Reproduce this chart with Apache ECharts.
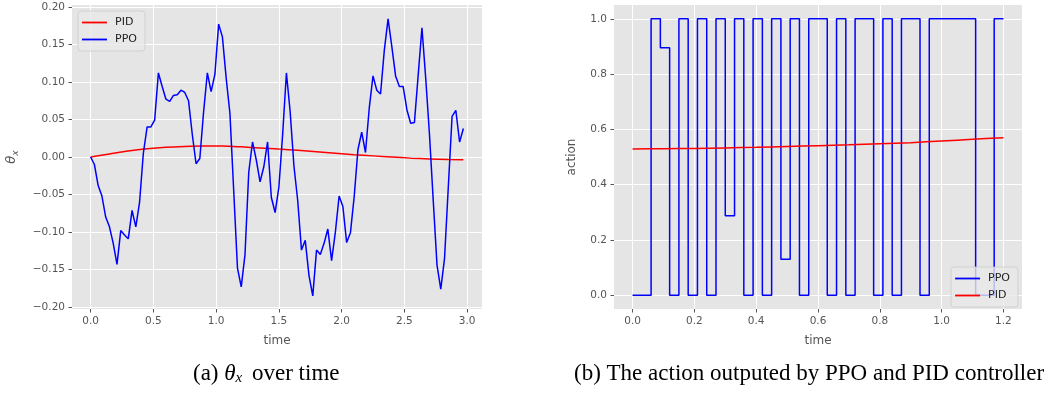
<!DOCTYPE html>
<html>
<head>
<meta charset="utf-8">
<script src="https://cdn.jsdelivr.net/npm/echarts@6/dist/echarts.min.js"></script>
<style>
  html, body { margin: 0; padding: 0; background: #fff; }
  #chart { width: 1062px; height: 394px; }
</style>
</head>
<body>
<div id="chart"></div>
<script>
// (a) theta_x over time
const thetaTime = [
  0.00, 0.03, 0.06, 0.09, 0.12, 0.15, 0.18, 0.21, 0.24, 0.27,
  0.30, 0.33, 0.36, 0.39, 0.42, 0.45, 0.48, 0.51, 0.54, 0.57,
  0.60, 0.63, 0.66, 0.69, 0.72, 0.75, 0.78, 0.81, 0.84, 0.87,
  0.90, 0.93, 0.96, 0.99, 1.02, 1.05, 1.08, 1.11, 1.14, 1.17,
  1.20, 1.23, 1.26, 1.29, 1.32, 1.35, 1.38, 1.41, 1.44, 1.47,
  1.50, 1.53, 1.56, 1.59, 1.62, 1.65, 1.68, 1.71, 1.74, 1.77,
  1.80, 1.83, 1.86, 1.89, 1.92, 1.95, 1.98, 2.01, 2.04, 2.07,
  2.10, 2.13, 2.16, 2.19, 2.22, 2.25, 2.28, 2.31, 2.34, 2.37,
  2.40, 2.43, 2.46, 2.49, 2.52, 2.55, 2.58, 2.61, 2.64, 2.67,
  2.70, 2.73, 2.76, 2.79, 2.82, 2.85, 2.88, 2.91, 2.94, 2.97
];
const thetaPPO = [
  0.000, -0.010, -0.038, -0.052, -0.080, -0.093, -0.115, -0.143, -0.098, -0.104,
  -0.109, -0.071, -0.093, -0.060, 0.005, 0.040, 0.040, 0.049, 0.112, 0.094,
  0.077, 0.074, 0.082, 0.083, 0.089, 0.086, 0.075, 0.030, -0.009, -0.002,
  0.060, 0.112, 0.087, 0.110, 0.177, 0.160, 0.105, 0.058, -0.045, -0.148,
  -0.173, -0.130, -0.020, 0.020, -0.004, -0.033, -0.013, 0.020, -0.054, -0.074,
  -0.040, 0.030, 0.112, 0.060, -0.012, -0.058, -0.124, -0.111, -0.158, -0.185,
  -0.124, -0.130, -0.115, -0.096, -0.138, -0.100, -0.052, -0.066, -0.114, -0.101,
  -0.053, 0.010, 0.033, 0.006, 0.065, 0.108, 0.089, 0.084, 0.142, 0.184,
  0.147, 0.108, 0.094, 0.094, 0.063, 0.045, 0.046, 0.109, 0.172, 0.105,
  0.030, -0.058, -0.144, -0.176, -0.135, -0.040, 0.054, 0.062, 0.020, 0.038
];
const thetaPIDTime = [0, 0.15, 0.3, 0.45, 0.6, 0.75, 0.9, 1.05, 1.2, 1.35, 1.5,
  1.65, 1.8, 1.95, 2.1, 2.25, 2.4, 2.55, 2.7, 2.85, 2.97];
const thetaPID = [0.000, 0.004, 0.008, 0.011, 0.013, 0.014, 0.0145, 0.0145, 0.0135, 0.012, 0.0105,
  0.009, 0.007, 0.005, 0.003, 0.0015, 0.000, -0.0015, -0.0025, -0.0033, -0.0035];

// (b) action output
const actionTime = [
  0.00, 0.03, 0.06, 0.09, 0.12, 0.15, 0.18, 0.21, 0.24, 0.27,
  0.30, 0.33, 0.36, 0.39, 0.42, 0.45, 0.48, 0.51, 0.54, 0.57,
  0.60, 0.63, 0.66, 0.69, 0.72, 0.75, 0.78, 0.81, 0.84, 0.87,
  0.90, 0.93, 0.96, 0.99, 1.02, 1.05, 1.08, 1.11, 1.14, 1.17, 1.20
];
const actionPPO = [
  0, 0, 1, 0.895, 0, 1, 0, 1, 0, 1,
  0.287, 1, 0, 1, 0, 1, 0.13, 1, 0, 1,
  1, 0, 1, 0, 1, 1, 0, 1, 0, 1,
  1, 0, 1, 1, 1, 1, 1, 0, 0, 1, 1
];
const actionPIDTime = [0, 0.1, 0.2, 0.3, 0.4, 0.5, 0.6, 0.7, 0.8, 0.9, 1.0, 1.1, 1.2];
const actionPID = [0.529, 0.530, 0.531, 0.533, 0.535, 0.538, 0.541, 0.544, 0.548, 0.552, 0.558, 0.564, 0.570];

const thetaXTicks = [0, 0.5, 1, 1.5, 2, 2.5, 3];
const thetaYTicks = [-0.2, -0.15, -0.1, -0.05, 0, 0.05, 0.1, 0.15, 0.2];
const actionXTicks = [0, 0.2, 0.4, 0.6, 0.8, 1.0, 1.2];
const actionYTicks = [0, 0.2, 0.4, 0.6, 0.8, 1.0];

const tickColor = '#555555';
const plotBg = '#e5e5e5';

const pairs = (xs, ys) => xs.map((x, i) => [x, ys[i]]);
const fmt = digits => v => (v < -1e-9 ? '\u2212' : '') + Math.abs(v).toFixed(digits);

function axis(gridIndex, min, max, ticks, digits, extra) {
  return Object.assign({
    type: 'value',
    gridIndex,
    min,
    max,
    axisLine: { show: false, onZero: false },
    axisTick: { show: true, length: 3.5, customValues: ticks, lineStyle: { color: tickColor, width: 1 } },
    axisLabel: {
      customValues: ticks,
      formatter: fmt(digits),
      color: tickColor,
      fontSize: 10.5,
      fontFamily: 'DejaVu Sans',
      margin: 7
    },
    splitLine: { show: true, lineStyle: { color: '#ffffff', width: 1 } },
    nameLocation: 'middle',
    nameTextStyle: { color: tickColor, fontSize: 12, fontFamily: 'DejaVu Sans' }
  }, extra);
}

// vertical white grid lines at the x ticks, kept under the data lines
function xGridLines(index, ticks) {
  return {
    type: 'line', xAxisIndex: index, yAxisIndex: index, data: [], z: 1, silent: true,
    markLine: {
      z: 1, silent: true, symbol: 'none', animation: false,
      label: { show: false },
      lineStyle: { color: '#ffffff', width: 1, type: 'solid' },
      emphasis: { disabled: true },
      data: ticks.map(v => ({ xAxis: v }))
    }
  };
}

const legendBase = {
  orient: 'vertical',
  icon: 'rect',
  itemWidth: 25,
  itemHeight: 1.8,
  itemGap: 4,
  padding: [5, 8, 5, 4],
  backgroundColor: 'rgba(232,232,232,0.8)',
  borderColor: 'rgba(204,204,204,0.8)',
  borderWidth: 1,
  borderRadius: 3,
  textStyle: { color: '#222', fontSize: 11, fontFamily: 'DejaVu Sans', padding: [0, 0, 0, 3], lineHeight: 13 }
};

const chart = echarts.init(document.getElementById('chart'));
chart.setOption({
  animation: false,
  backgroundColor: '#ffffff',
  grid: [
    { left: 72, top: 5, width: 410, height: 304, show: true, backgroundColor: plotBg, borderWidth: 0 },
    { left: 614, top: 5, width: 408, height: 304, show: true, backgroundColor: plotBg, borderWidth: 0 }
  ],
  xAxis: [
    axis(0, -0.1485, 3.1185, thetaXTicks, 1, { name: 'time', nameGap: 26 }),
    axis(1, -0.06, 1.26, actionXTicks, 1, { name: 'time', nameGap: 26 })
  ],
  yAxis: [
    axis(0, -0.2025, 0.2025, thetaYTicks, 2, {
      name: '{t|θ}{s|x}',
      nameGap: 52,
      nameRotate: 90,
      nameTextStyle: {
        color: tickColor,
        rich: {
          t: { fontSize: 13, fontStyle: 'italic', fontFamily: 'DejaVu Sans', color: tickColor, lineHeight: 16 },
          s: { fontSize: 9, fontStyle: 'italic', fontFamily: 'DejaVu Sans', color: tickColor, lineHeight: 16, padding: [7, 0, 0, 0] }
        }
      }
    }),
    axis(1, -0.05, 1.05, actionYTicks, 1, { name: 'action', nameGap: 36 })
  ],
  legend: [
    Object.assign({}, legendBase, { left: 78, top: 11, data: ['PID', 'PPO'] }),
    Object.assign({}, legendBase, { right: 44, top: 267, data: ['PPO', 'PID'] })
  ],
  graphic: [
    {
      type: 'text',
      left: 193,
      top: 362,
      style: {
        text: '(a) {i|θ}{s|x} over time',
        font: '23px "Liberation Serif"',
        fill: '#000',
        rich: {
          i: { fontSize: 23, fontStyle: 'italic', fontFamily: 'Liberation Serif', fill: '#000' },
          s: { fontSize: 15, fontStyle: 'italic', fontFamily: 'Liberation Serif', fill: '#000', padding: [10, 4, 0, 0] }
        }
      }
    },
    {
      type: 'text',
      left: 574,
      top: 362,
      style: {
        text: '(b) The action outputed by PPO and PID controller',
        font: '23px "Liberation Serif"',
        fill: '#000'
      }
    }
  ],
  series: [
    xGridLines(0, thetaXTicks),
    xGridLines(1, actionXTicks),
    {
      name: 'PID', type: 'line', xAxisIndex: 0, yAxisIndex: 0,
      data: pairs(thetaPIDTime, thetaPID), symbol: 'none', smooth: 0.3,
      lineStyle: { color: 'red', width: 1.5 }, itemStyle: { color: 'red' }
    },
    {
      name: 'PPO', type: 'line', xAxisIndex: 0, yAxisIndex: 0,
      data: pairs(thetaTime, thetaPPO), symbol: 'none',
      lineStyle: { color: 'blue', width: 1.5 }, itemStyle: { color: 'blue' }
    },
    {
      name: 'PPO', type: 'line', xAxisIndex: 1, yAxisIndex: 1,
      data: pairs(actionTime, actionPPO), symbol: 'none', step: 'end',
      lineStyle: { color: 'blue', width: 1.5 }, itemStyle: { color: 'blue' }
    },
    {
      name: 'PID', type: 'line', xAxisIndex: 1, yAxisIndex: 1,
      data: pairs(actionPIDTime, actionPID), symbol: 'none', smooth: 0.3,
      lineStyle: { color: 'red', width: 1.5 }, itemStyle: { color: 'red' }
    }
  ]
});
</script>
</body>
</html>
